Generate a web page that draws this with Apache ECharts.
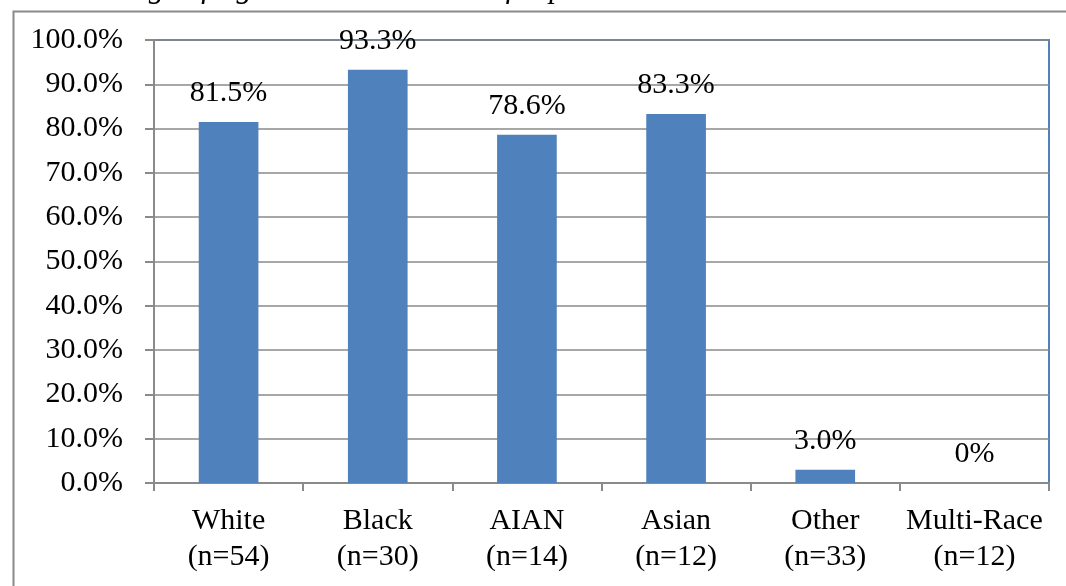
<!DOCTYPE html>
<html>
<head>
<meta charset="utf-8">
<script src="https://cdn.jsdelivr.net/npm/echarts@6/dist/echarts.min.js"></script>
<style>
html,body{margin:0;padding:0;background:#fff;}
#chart{width:1066px;height:586px;}
</style>
</head>
<body>
<div id="chart"></div>
<script>
const titleText = 'Percentage of Agreement between Self-reported and Administrative Data on Race';
const categories = ['White\n(n=54)', 'Black\n(n=30)', 'AIAN\n(n=14)', 'Asian\n(n=12)', 'Other\n(n=33)', 'Multi-Race\n(n=12)'];
const values = [81.5, 93.3, 78.6, 83.3, 3.0, 0];
const valueLabels = ['81.5%', '93.3%', '78.6%', '83.3%', '3.0%', '0%'];

const font = '"Liberation Serif", "Times New Roman", serif';
const chart = echarts.init(document.getElementById('chart'));
chart.setOption({
  animation: false,
  backgroundColor: '#fff',
  graphic: [
    {
      type: 'rect', left: 11, top: 9, z: -10,
      shape: { width: 1070, height: 600 },
      style: { fill: 'none', stroke: '#8a8a8a', lineWidth: 2 }
    },
    {
      type: 'text', x: 38, y: 4,
      style: { text: titleText, font: 'italic 31px ' + font, fill: '#000', verticalAlign: 'bottom', align: 'left' }
    }
  ],
  grid: { left: 154, right: 17, top: 40, bottom: 103, show: true, borderColor: '#4F81BD', borderWidth: 2, backgroundColor: 'transparent' },
  xAxis: {
    type: 'category',
    data: categories,
    axisLine: { lineStyle: { color: '#8a8a8a', width: 2 } },
    axisTick: { show: true, length: 8, lineStyle: { color: '#8a8a8a', width: 2 } },
    axisLabel: { color: '#000', fontFamily: font, fontSize: 30, lineHeight: 36, margin: 20, interval: 0 }
  },
  yAxis: {
    type: 'value', min: 0, max: 100, interval: 10,
    axisLine: { show: true, lineStyle: { color: '#8a8a8a', width: 2 } },
    axisTick: { show: true, length: 9, lineStyle: { color: '#8a8a8a', width: 2 } },
    splitLine: { lineStyle: { color: '#8a8a8a', width: 1.5 } },
    axisLabel: { color: '#000', fontFamily: font, fontSize: 30, margin: 31, formatter: v => v.toFixed(1) + '%' }
  },
  series: [{
    type: 'bar',
    data: values,
    barWidth: '40%',
    itemStyle: { color: '#4F81BD' },
    label: {
      show: true, position: 'top', distance: 14,
      color: '#000', fontFamily: font, fontSize: 30,
      formatter: p => valueLabels[p.dataIndex]
    }
  }]
});
</script>
</body>
</html>
